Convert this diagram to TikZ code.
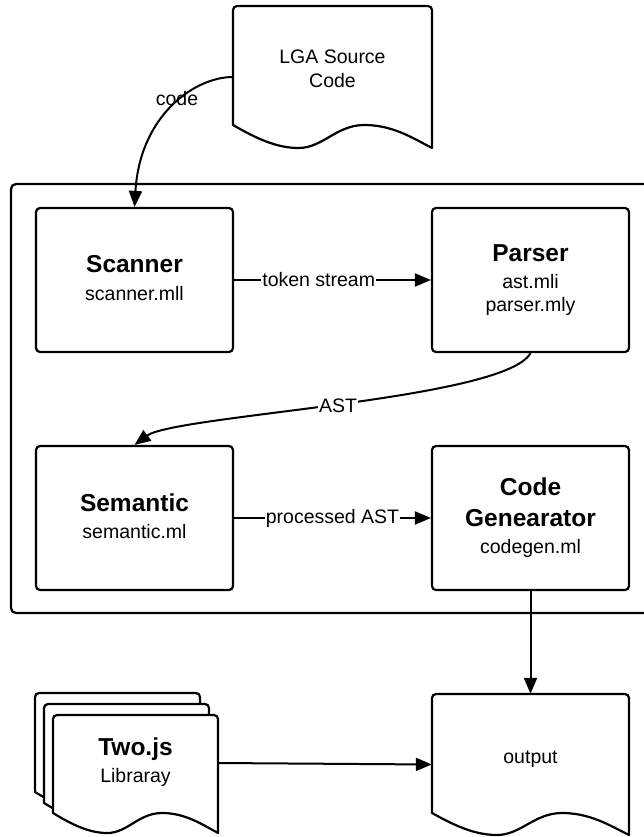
\documentclass[tikz,border=0pt]{standalone}
\usepackage{fontspec}
\setmainfont{Liberation Sans}
\usetikzlibrary{arrows.meta}
\newcommand{\mydoc}[5]{%
  \draw[shp, fill=white] (#1,{#2+#4}) {[rounded corners=4pt] -- (#1,#2) -- ({#1+#3},#2) -- ({#1+#3},{#2+#4*0.5})} -- ({#1+#3},{#2+#4+#5})
    .. controls ({#1+0.9*#3},{#2+#4+0.55*#5}) and ({#1+0.8*#3},{#2+#4}) .. ({#1+0.66*#3},{#2+#4})
    .. controls ({#1+0.52*#3},{#2+#4}) and ({#1+0.45*#3},{#2+#4+#5}) .. ({#1+0.33*#3},{#2+#4+#5})
    .. controls ({#1+0.22*#3},{#2+#4+#5}) and ({#1+0.12*#3},{#2+#4+0.6*#5}) .. (#1,{#2+#4}) -- cycle;}
\begin{document}
\begin{tikzpicture}[x=1pt,y=-1pt,
  box/.style={draw, line width=2.2pt, rounded corners=4pt, minimum width=197pt, minimum height=144pt, inner sep=0pt},
  area/.style={inner sep=0pt},
  shp/.style={draw, line width=2.2pt, line join=round},
  conn/.style={line width=2pt, -{Triangle[length=16pt,width=13pt]}},
  ttl/.style={font=\fontsize{24.5}{28}\selectfont\bfseries, anchor=base, inner sep=0pt},
  txt/.style={font=\fontsize{19.5}{24}\selectfont, anchor=base, inner sep=0pt},
  lbl/.style={font=\fontsize{19.5}{24}\selectfont, fill=white, inner sep=1pt},
]
\clip (0,0) rectangle (644,837);
\fill[white] (0,0) rectangle (644,837);

% container
\draw[shp, rounded corners=5pt] (11,184) rectangle (680,613);

% source document
\mydoc{233}{6}{199}{119}{23}
\node[area, minimum width=199pt, minimum height=142pt] (src) at (332.5,77) {};
\node[txt] (srcA) at (332.5,63.3) {LGA Source};
\node[txt] (srcB) at (332.5,87.3) {Code};

% boxes
\node[box] (scan) at (134.5,280) {};
\node[ttl] (scanA) at (134.5,272.7) {Scanner};
\node[txt] (scanB) at (134.5,300.7) {scanner.mll};

\node[box] (pars) at (530.5,280) {};
\node[ttl] (parsA) at (530.5,261.7) {Parser};
\node[txt] (parsB) at (530.5,288) {ast.mli};
\node[txt] (parsC) at (530.5,311.7) {parser.mly};

\node[box] (sem) at (134.5,518) {};
\node[ttl] (semA) at (134.5,511.7) {Semantic};
\node[txt] (semB) at (134.5,538) {semantic.ml};

\node[box] (gen) at (530.5,518) {};
\node[ttl] (genA) at (530.5,495.7) {Code};
\node[ttl] (genB) at (530.5,526.7) {Genearator};
\node[txt] (genC) at (530.5,553) {codegen.ml};

% Two.js stack
\mydoc{35}{693}{165}{99}{20}
\mydoc{44}{704}{165}{99}{20}
\mydoc{53}{715}{165}{98}{20}
\node[area, minimum width=165pt, minimum height=118pt] (two) at (135.5,774) {};
\coordinate (twoE) at (218,763);
\node[ttl] (twoA) at (135.5,755) {Two.js};
\node[txt] (twoB) at (135.5,782.7) {Libraray};

% output document
\mydoc{432}{694}{197}{119}{22}
\node[area, minimum width=197pt, minimum height=141pt] (out) at (530.5,764.5) {};
\node[txt] (outA) at (530.5,763) {output};

% connectors
\draw[conn] (src.west) .. controls (195,77) and (140,115) .. (scan.north);
\node[txt] (codeL) at (177,106) {code};
\draw[conn] (scan.east) -- node[lbl, pos=0.43] (tokL) {token stream} (pars.west);
\draw[conn] (pars.south) .. controls (505,400) and (175,415) .. node[lbl, pos=0.5] (astL) {AST} (sem.north);
\draw[conn] (sem.east) -- node[lbl, pos=0.5] (procL) {processed AST} (gen.west);
\draw[conn] (gen.south) -- (out.north);
\draw[conn] (twoE) -- (out.west);
\end{tikzpicture}
\end{document}
